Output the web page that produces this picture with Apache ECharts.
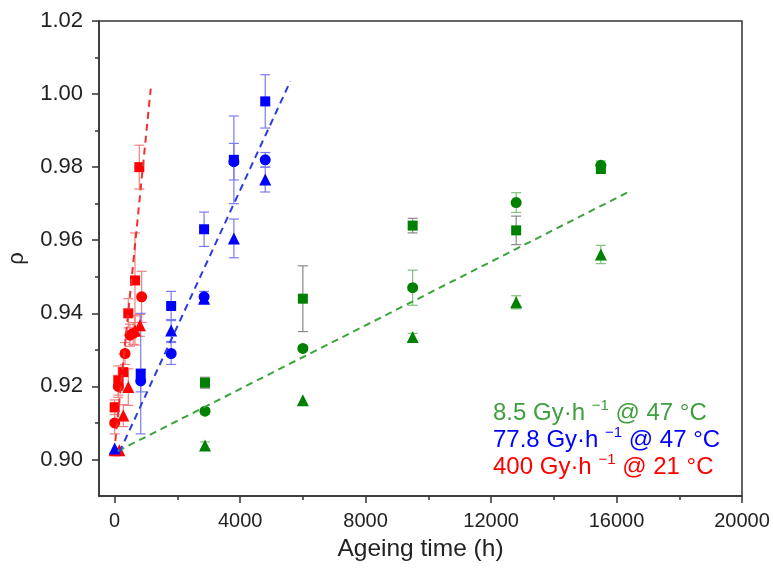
<!DOCTYPE html>
<html>
<head>
<meta charset="utf-8">
<script src="https://cdn.jsdelivr.net/npm/echarts@6/dist/echarts.min.js"></script>
<style>html,body{margin:0;padding:0;background:#fff}#c{width:773px;height:572px}</style>
</head>
<body>
<div id="c"></div>
<script>
// ---- data: [time (h), rho, error] ----
const greenSquare = [[2880,0.921,0.0015],[6000,0.944,0.009],[9500,0.964,0.002],[12800,0.9627,0.0039],[15500,0.9795,0.001]];
const greenCircle = [[2880,0.9132,0.0008],[6000,0.9304,0],[9500,0.947,0.0048],[12800,0.9703,0.0027],[15500,0.9805,0.0012]];
const greenTriangle = [[2880,0.9038,0.001],[6000,0.9162,0],[9500,0.9335,0.001],[12800,0.943,0.0018],[15500,0.9561,0.0025]];

const blueSquare = [[830,0.9235,0.0165],[1800,0.942,0.004],[2850,0.963,0.0047],[3800,0.982,0.012],[4800,0.998,0.0073]];
const blueCircle = [[830,0.9215,0.003],[1800,0.929,0.003],[2850,0.9445,0.0015],[3800,0.9815,0.005],[4800,0.982,0.002]];
const blueTriangle = [[0,0.903,0],[1800,0.9353,0.003],[2850,0.944,0.001],[3800,0.9605,0.0053],[4800,0.9766,0.0034]];

const redSquare = [[0,0.9143,0.002],[115,0.9216,0.004],[275,0.9239,0.005],[434,0.940,0.004],[647,0.949,0.013],[785,0.980,0.006]];
const redCircle = [[0,0.910,0.003],[115,0.920,0.003],[330,0.929,0.003],[488,0.934,0.003],[590,0.9345,0.003],[860,0.9445,0.007]];
const redTriangle = [[0,0.9025,0],[150,0.9025,0],[275,0.912,0.003],[434,0.9198,0.005],[647,0.9353,0.004],[806,0.9367,0.003]];

const fitGreen = [[100,0.9023],[16400,0.9733]];
const fitBlue = [[150,0.902],[5600,1.0035]];
const fitRed = [[20,0.905],[1150,1.0015]];

const xTicks = [0,4000,8000,12000,16000,20000];
const xMinorTicks = [2000,6000,10000,14000,18000];
const yTicks = [0.90,0.92,0.94,0.96,0.98,1.00,1.02];
const yMinorTicks = [0.91,0.93,0.95,0.97,0.99,1.01];

const legendLines = [
  {rate:'8.5', temp:'47', color:'#3f9f3f'},
  {rate:'77.8', temp:'47', color:'#0000ff'},
  {rate:'400', temp:'21', color:'#ff0000'}
];

const FONT = 'Liberation Sans, Arial, Helvetica, sans-serif';

function errSeries(data, color){
  return {
    type:'custom', data:data, z:2, silent:true,
    renderItem:function(params, api){
      const x = api.value(0), y = api.value(1), e = api.value(2);
      if(!e) return null;
      const t = api.coord([x, y+e]), b = api.coord([x, y-e]);
      const w = 5;
      const st = {stroke:color, lineWidth:1.2};
      return {type:'group', children:[
        {type:'line', shape:{x1:t[0],y1:t[1],x2:b[0],y2:b[1]}, style:st},
        {type:'line', shape:{x1:t[0]-w,y1:t[1],x2:t[0]+w,y2:t[1]}, style:st},
        {type:'line', shape:{x1:b[0]-w,y1:b[1],x2:b[0]+w,y2:b[1]}, style:st}
      ]};
    }
  };
}
function pts(data, symbol, size, color){
  return {type:'scatter', data:data.map(d=>[d[0],d[1]]), symbol:symbol, symbolSize:size,
    itemStyle:{color:color, opacity:1}, z:3, silent:true};
}
function fit(data, color){
  return {type:'line', data:data, symbol:'none', z:4, silent:true,
    lineStyle:{color:color, width:2, type:[7,5]}};
}

const option = {
  animation:false,
  grid:{left:99, right:31, top:21, bottom:76, containLabel:false, outerBoundsMode:'none',
    show:true, borderColor:'#333', borderWidth:1.5, backgroundColor:'transparent'},
  xAxis:[
    {type:'value', min:-500, max:20000,
      name:'Ageing time (h)', nameLocation:'middle', nameGap:41,
      nameTextStyle:{fontSize:24.5, color:'#222', fontFamily:FONT},
      axisLine:{show:true, onZero:false, lineStyle:{color:'#333', width:1.5}},
      splitLine:{show:false},
      axisTick:{show:true, length:7, lineStyle:{color:'#333', width:1.5}, customValues:xTicks},
      axisLabel:{customValues:xTicks, fontSize:20, color:'#222', fontFamily:FONT, margin:15,
        formatter:v=>String(v)}
    },
    {type:'value', min:-500, max:20000, position:'bottom',
      axisLine:{show:false, onZero:false}, splitLine:{show:false}, axisLabel:{show:false},
      axisTick:{show:true, length:4, lineStyle:{color:'#333', width:1.5}, customValues:xMinorTicks}}
  ],
  yAxis:[
    {type:'value', min:0.89, max:1.02,
      name:'ρ', nameLocation:'middle', nameGap:71, nameRotate:90,
      nameTextStyle:{fontSize:22, color:'#222', fontFamily:FONT},
      axisLine:{show:true, onZero:false, lineStyle:{color:'#333', width:1.5}},
      splitLine:{show:false},
      axisTick:{show:true, length:7, lineStyle:{color:'#333', width:1.5}, customValues:yTicks},
      axisLabel:{customValues:yTicks, fontSize:22, color:'#222', fontFamily:FONT, margin:16,
        formatter:v=>v.toFixed(2)}
    },
    {type:'value', min:0.89, max:1.02, position:'left',
      axisLine:{show:false, onZero:false}, splitLine:{show:false}, axisLabel:{show:false},
      axisTick:{show:true, length:4, lineStyle:{color:'#333', width:1.5}, customValues:yMinorTicks}}
  ],
  series:[
    errSeries(greenSquare,'#8a8a8a'), errSeries(greenCircle,'#7cc27c'), errSeries(greenTriangle,'#7cc27c'),
    pts(greenSquare,'rect',10,'#008000'), pts(greenCircle,'circle',11,'#008000'), pts(greenTriangle,'triangle',12,'#008000'),
    errSeries(redSquare,'#f08080'), errSeries(redCircle,'#f08080'), errSeries(redTriangle,'#f08080'),
    pts(redSquare,'rect',10,'#ff0000'), pts(redCircle,'circle',11,'#ff0000'), pts(redTriangle,'triangle',12,'#ff0000'),
    errSeries(blueSquare,'#7b7bf0'), errSeries(blueCircle,'#7b7bf0'), errSeries(blueTriangle,'#7b7bf0'),
    pts(blueSquare,'rect',10,'#0000ff'), pts(blueCircle,'circle',11,'#0000ff'), pts(blueTriangle,'triangle',12,'#0000ff'),
    fit(fitGreen,'#3aa33a'), fit(fitBlue,'#2b3be0'), fit(fitRed,'#f03030')
  ],
  graphic: legendLines.map((l,i)=>({
    type:'text', left:493, top:398 + i*27, z:10, silent:true,
    style:{
      text:'{a|' + l.rate + ' Gy·h }{s|−1}{a| @ ' + l.temp + ' °C}',
      rich:{
        a:{fontSize:24, fontFamily:FONT, fill:l.color, lineHeight:27, verticalAlign:'bottom'},
        s:{fontSize:15, fontFamily:FONT, fill:l.color, lineHeight:15, verticalAlign:'top'}
      }
    }
  }))
};

const chart = echarts.init(document.getElementById('c'), null, {renderer:'canvas'});
chart.setOption(option);
</script>
</body>
</html>
